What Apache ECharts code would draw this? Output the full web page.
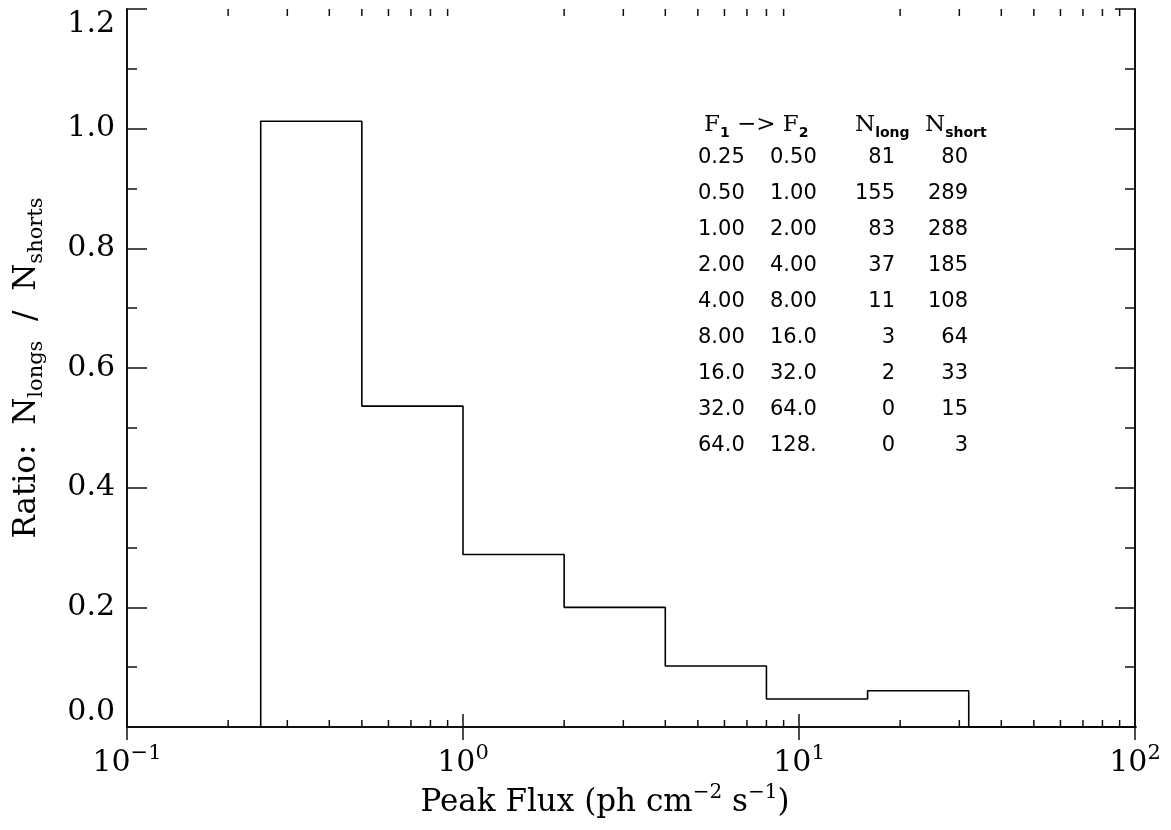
<!DOCTYPE html>
<html>
<head>
<meta charset="utf-8">
<script src="https://cdn.jsdelivr.net/npm/echarts@6/dist/echarts.min.js"></script>
<style>
  html, body { margin: 0; padding: 0; background: #fff; }
  #chart { width: 1171px; height: 830px; }
</style>
</head>
<body>
<div id="chart"></div>
<script>
// Peak-flux bins (edges as printed in the table) and burst counts per bin
const f1Labels = ['0.25', '0.50', '1.00', '2.00', '4.00', '8.00', '16.0', '32.0', '64.0'];
const f2Labels = ['0.50', '1.00', '2.00', '4.00', '8.00', '16.0', '32.0', '64.0', '128.'];
const nLong  = [81, 155, 83, 37, 11, 3, 2, 0, 0];
const nShort = [80, 289, 288, 185, 108, 64, 33, 15, 3];

// Axis ranges and log-axis minor tick multipliers
const xMin = 0.1, xMax = 100;
const yMin = 0, yMax = 1.2, yStep = 0.2;
const minorMultipliers = [2, 3, 4, 5, 6, 7, 8, 9];
const decadeStarts = [0.1, 1, 10];

// Ratio long/short per bin, drawn as an outlined histogram
const lo = f1Labels.map(parseFloat);
const hi = f2Labels.map(parseFloat);
const ratio = nLong.map((n, i) => n / nShort[i]);
const steps = [[lo[0], 0]];
ratio.forEach((r, i) => { steps.push([lo[i], r]); steps.push([hi[i], r]); });
steps.push([hi[hi.length - 1], 0]);

const minorX = [];
decadeStarts.forEach(d => minorMultipliers.forEach(m => minorX.push([+(d * m).toPrecision(3), 0])));

const INK = '#111';
const SERIF = 'DejaVu Serif';
const axisLine = { show: true, lineStyle: { color: INK, width: 2 } };

const xLabelRich = {
  b: { fontFamily: SERIF, fontSize: 30, lineHeight: 40, color: '#000' },
  s: { fontFamily: SERIF, fontSize: 21, lineHeight: 22, verticalAlign: 'top', color: '#000' }
};

const chart = echarts.init(document.getElementById('chart'), null, { renderer: 'canvas' });

// Bin table drawn inside the plot
const tableFont = '21px "DejaVu Sans"';
const rowY0 = 158, rowDy = 36;
const colX = [698, 770, 895, 968];
const graphic = [];
f1Labels.forEach((t, i) => {
  const y = rowY0 + i * rowDy;
  const cells = [
    [f1Labels[i], colX[0], 'left'],
    [f2Labels[i], colX[1], 'left'],
    [String(nLong[i]), colX[2], 'right'],
    [String(nShort[i]), colX[3], 'right']
  ];
  cells.forEach(([txt, x, al]) => {
    graphic.push({
      type: 'text', x: x, y: y, silent: true,
      style: { text: txt, font: tableFont, fill: '#000', align: al, verticalAlign: 'middle' }
    });
  });
});
const headRich = {
  n: { fontFamily: SERIF, fontSize: 23, lineHeight: 30, color: '#000' },
  s: { fontFamily: 'DejaVu Sans', fontWeight: 'bold', fontSize: 14, lineHeight: 14, verticalAlign: 'bottom', color: '#000' }
};
graphic.push(
  { type: 'text', x: 704, y: 125, silent: true,
    style: { text: '{n|F}{s|1}{n| −> F}{s|2}', rich: headRich, align: 'left', verticalAlign: 'middle' } },
  { type: 'text', x: 855, y: 125, silent: true,
    style: { text: '{n|N}{s|long}', rich: headRich, align: 'left', verticalAlign: 'middle' } },
  { type: 'text', x: 925, y: 125, silent: true,
    style: { text: '{n|N}{s|short}', rich: headRich, align: 'left', verticalAlign: 'middle' } }
);

const option = {
  animation: false,
  backgroundColor: '#fff',
  grid: { left: 127, right: 36, top: 9, bottom: 103, containLabel: false, outerBoundsMode: 'none' },
  xAxis: [
    {
      type: 'log', logBase: 10, min: xMin, max: xMax, position: 'bottom',
      axisLine: axisLine,
      axisTick: { show: true, inside: true, length: 13, lineStyle: { color: INK, width: 1.5 } },
      splitLine: { show: false },
      axisLabel: {
        margin: 16,
        formatter: v => '{b|10}{s|' + String(Math.round(Math.log10(v))).replace('-', '−') + '}',
        rich: xLabelRich
      },
      name: '{m|Peak Flux (ph cm}{s|−2}{m| s}{s|−1}{m|)}',
      nameLocation: 'middle', nameGap: 56,
      nameTextStyle: {
        padding: [0, 52, 0, 0],
        rich: {
          m: { fontFamily: SERIF, fontSize: 31, lineHeight: 40, color: '#000' },
          s: { fontFamily: SERIF, fontSize: 20, lineHeight: 22, verticalAlign: 'top', color: '#000' }
        }
      }
    },
    {
      type: 'log', logBase: 10, min: xMin, max: xMax, position: 'top',
      axisLine: axisLine,
      axisTick: { show: true, inside: true, length: 13, lineStyle: { color: INK, width: 1.5 } },
      axisLabel: { show: false }, splitLine: { show: false }
    }
  ],
  yAxis: [
    {
      type: 'value', min: yMin, max: yMax, interval: yStep, position: 'left',
      axisLine: axisLine,
      axisTick: { show: true, inside: true, length: 20, lineStyle: { color: INK, width: 1.5 } },
      minorTick: { show: true, splitNumber: 2, length: 10, lineStyle: { color: INK, width: 1.5 } },
      splitLine: { show: false },
      axisLabel: {
        margin: 12, fontFamily: SERIF, fontSize: 30, color: '#000',
        verticalAlignMinLabel: 'bottom', verticalAlignMaxLabel: 'top',
        formatter: v => v.toFixed(1)
      },
      name: '{m|Ratio:  N}{s|longs}{m|  /  N}{s|shorts}',
      nameLocation: 'middle', nameRotate: 90, nameGap: 80,
      nameTextStyle: {
        rich: {
          m: { fontFamily: SERIF, fontSize: 31, lineHeight: 40, color: '#000' },
          s: { fontFamily: SERIF, fontSize: 21, lineHeight: 22, verticalAlign: 'bottom', color: '#000' }
        }
      }
    },
    {
      type: 'value', min: yMin, max: yMax, interval: yStep, position: 'right',
      axisLine: axisLine,
      axisTick: { show: true, inside: true, length: 20, lineStyle: { color: INK, width: 1.5 } },
      minorTick: { show: true, splitNumber: 2, length: 10, lineStyle: { color: INK, width: 1.5 } },
      splitLine: { show: false },
      axisLabel: { show: false }
    }
  ],
  series: [
    {
      type: 'line', data: steps, xAxisIndex: 0, yAxisIndex: 0,
      showSymbol: false, symbol: 'none', clip: true, silent: true,
      lineStyle: { color: '#000', width: 1.6 }, z: 3
    },
    {
      type: 'custom', data: minorX, xAxisIndex: 0, yAxisIndex: 0,
      encode: { x: 0, y: 1 }, silent: true, clip: false, z: 4,
      renderItem: (params, api) => {
        const v = api.value(0);
        const b = api.coord([v, yMin]);
        const t = api.coord([v, yMax]);
        const st = { stroke: INK, lineWidth: 1.5 };
        return {
          type: 'group',
          children: [
            { type: 'line', shape: { x1: b[0], y1: b[1], x2: b[0], y2: b[1] - 7 }, style: st },
            { type: 'line', shape: { x1: t[0], y1: t[1], x2: t[0], y2: t[1] + 7 }, style: st }
          ]
        };
      }
    }
  ],
  graphic: graphic
};

chart.setOption(option);
</script>
</body>
</html>
